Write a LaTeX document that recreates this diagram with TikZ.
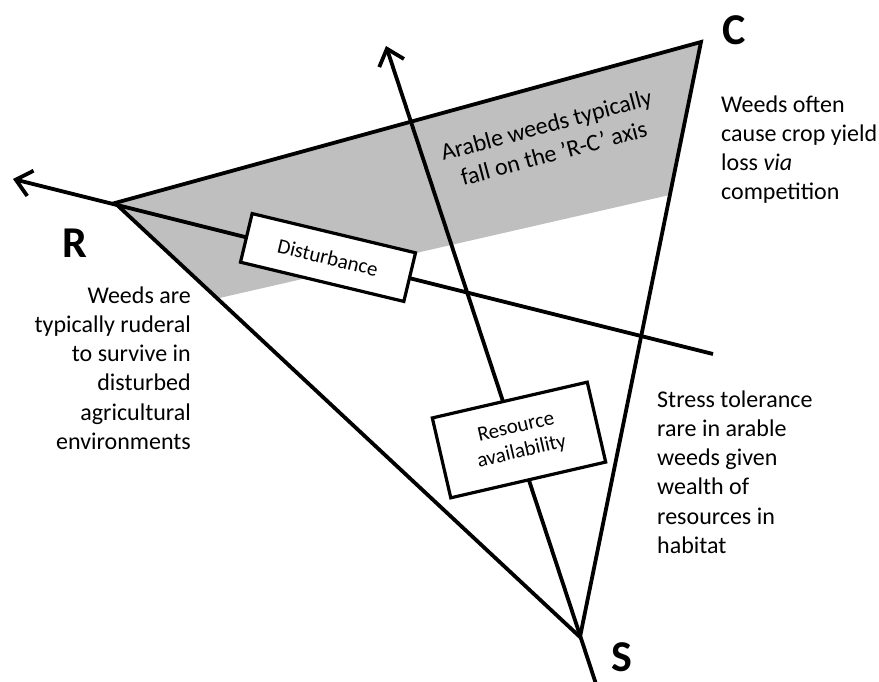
\documentclass[tikz,border=0pt]{standalone}
\usepackage{fontspec}
\setmainfont{Carlito}
\usetikzlibrary{arrows.meta,calc}
\begin{document}
\begin{tikzpicture}[x=1pt,y=-1pt,
  edge/.style={line width=3.8pt, line join=miter},
  axisline/.style={line width=3.8pt, -{Straight Barb[length=15pt,width=26pt]}},
  labelbox/.style={draw, line width=3.2pt, fill=white, inner sep=0pt, align=center,
    font=\fontsize{21}{25}\selectfont},
  vertex/.style={font=\fontsize{44}{50}\selectfont\bfseries, inner sep=0pt},
  note/.style={font=\fontsize{24}{29.2}\selectfont, inner sep=0pt}
]
\useasboundingbox (0,0) rectangle (879,682);
\coordinate (R) at (115,203);
\coordinate (C) at (701,42);
\coordinate (S) at (580,637);
\coordinate (Dtip) at (13,179);
\coordinate (Dend) at (713,354);
\coordinate (Rtip) at (386,46);
\coordinate (Rend) at (598,690);
\fill[gray!50] (R) -- (C) -- ($(C)!0.257!(S)$) -- ($(R)!0.22!(S)$) -- cycle;
\draw[edge] (R) -- (C) -- (S) -- cycle;
\draw[axisline] (Dend) -- (Dtip);
\draw[axisline] (Rend) -- (Rtip);
\node[labelbox, minimum width=168pt, minimum height=50pt, rotate=-13.5] (dist) at (328,257.5) {Disturbance};
\node[labelbox, minimum width=159pt, minimum height=82pt, rotate=13] (res) at (519,440) {Resource\\availability};
\node[note, align=center, rotate=15] (rcnote) at (550,139) {Arable weeds typically\\fall on the ’R-C’ axis};
\node[vertex] (Rl) at (75,243) {R};
\node[vertex] (Cl) at (734.5,30) {C};
\node[vertex] (Sl) at (622,657) {S};
\node[note, anchor=north west, align=left] (cnote) at (721,95.5) {Weeds often\\cause crop yield\\loss \textit{via}\\competition};
\node[note, anchor=north east, align=right] (rnote) at (191,286.5) {Weeds are\\typically ruderal\\to survive in\\disturbed\\agricultural\\environments};
\node[note, anchor=north west, align=left] (snote) at (657,390.5) {Stress tolerance\\rare in arable\\weeds given\\wealth of\\resources in\\habitat};
\end{tikzpicture}
\end{document}
